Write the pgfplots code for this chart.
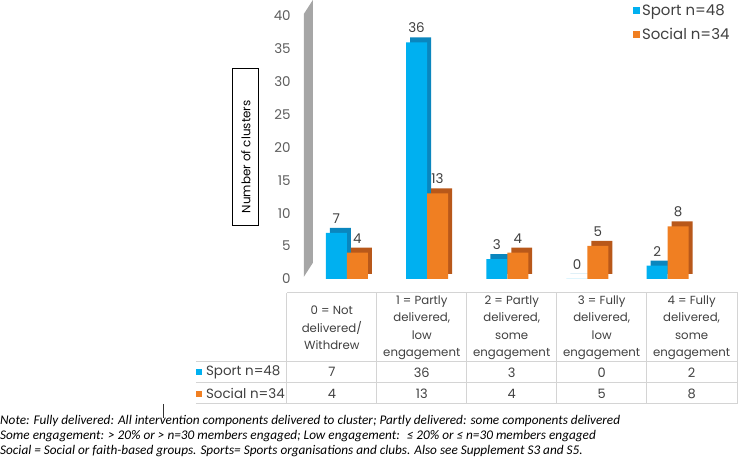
\documentclass[border=0pt]{standalone}
\usepackage{fontspec}
\setmainfont{Poppins}
\newfontfamily\notefont{Carlito}
\usepackage{pgfplots}
\pgfplotsset{compat=1.18}
\definecolor{sport}{HTML}{00B0F0}
\definecolor{sportdk}{HTML}{0A86BE}
\definecolor{social}{HTML}{F07F22}
\definecolor{socialdk}{HTML}{B8581A}
\definecolor{txt}{HTML}{404040}
\definecolor{grid}{HTML}{D4D4D4}
\begin{document}
\begin{tikzpicture}
\begin{scope}[x=1bp,y=-1bp]
\useasboundingbox (0,0) rectangle (738,457);
% wall
\fill[gray!70] (304,14) -- (313,0) -- (313,263) -- (304,277) -- cycle;
\end{scope}
\begin{axis}[
  at={(287bp,-279bp)}, anchor=south west,
  scale only axis, width=451bp, height=263bp,
  xmin=-0.748, xmax=4.872, ymin=0, ymax=40,
  axis line style={draw=none}, tick style={draw=none},
  xtick=\empty, ytick={0,5,...,40},
  /pgf/number format/assume math mode=true,
  yticklabel style={font=\fontsize{13.5}{16}\selectfont, text=txt!85, inner sep=0pt, xshift=4bp},
  clip=false,
  ybar, bar width=21bp,
  legend style={at={(0.76,1.06)}, anchor=north west, draw=none, fill=none,
    font=\fontsize{15}{17}\selectfont, text=txt, row sep=7bp,
    /tikz/every even column/.append style={column sep=3bp}},
  legend cell align=left,
]
% depth (3D) faces, drawn behind the front faces
\addplot[fill=sportdk, draw=none, bar shift=-10.5bp, xshift=4bp, yshift=5bp, forget plot]
  coordinates {(0,7) (1,36) (2,3) (3,0) (4,2)};
\addplot[fill=socialdk, draw=none, bar shift=10.5bp, xshift=4bp, yshift=5bp, forget plot]
  coordinates {(0,4) (1,13) (2,4) (3,5) (4,8)};
% front faces
\addplot[fill=sport, draw=none, bar shift=-10.5bp,
  legend image code/.code={\node[fill=sport, inner sep=0pt, minimum width=7.5bp, minimum height=7.5bp, anchor=west] at (0bp,0bp) {};},
  nodes near coords, every node near coord/.append style={font=\fontsize{13.5}{16}\selectfont, text=txt, yshift=6bp}]
  coordinates {(0,7) (1,36) (2,3) (3,0) (4,2)};
\addlegendentry{Sport n=48}
\addplot[fill=social, draw=none, bar shift=10.5bp,
  legend image code/.code={\node[fill=social, inner sep=0pt, minimum width=7.5bp, minimum height=7.5bp, anchor=west] at (0bp,0bp) {};},
  nodes near coords, every node near coord/.append style={font=\fontsize{13.5}{16}\selectfont, text=txt, yshift=6bp}]
  coordinates {(0,4) (1,13) (2,4) (3,5) (4,8)};
\addlegendentry{Social n=34}
\end{axis}
\begin{scope}[x=1bp,y=-1bp]
% y label
\draw[black, line width=0.8bp] (233,68) rectangle (259,226);
\node[rotate=90, font=\fontsize{12}{14}\selectfont, text=black, inner sep=0pt] at (246,157) {Number of clusters};
% table
\draw[grid, line width=0.8bp] (287,293) -- (738,293);
\foreach \y in {362,383,404} {\draw[grid, line width=0.8bp] (196,\y) -- (738,\y);}
\foreach \x in {287,377,467,557,647,737.5} {\draw[grid, line width=0.8bp] (\x,293) -- (\x,404);}
\foreach \x/\t in {332/{0 = Not\\delivered/\\Withdrew},
                   422/{1 = Partly\\delivered,\\low\\engagement},
                   512/{2 = Partly\\delivered,\\some\\engagement},
                   602/{3 = Fully\\delivered,\\low\\engagement},
                   692/{4 = Fully\\delivered,\\some\\engagement}}
  {\node[align=center, text=txt, font=\fontsize{11.8}{17.3}\selectfont, inner sep=0pt] at (\x,328) {\t};}
\foreach \x/\a/\b in {332/7/4, 422/36/13, 512/3/4, 602/0/5, 692/2/8}
  {\node[text=txt, font=\fontsize{13}{15}\selectfont, inner sep=0pt] at (\x,372.5) {\a};
   \node[text=txt, font=\fontsize{13}{15}\selectfont, inner sep=0pt] at (\x,394) {\b};}
\fill[sport] (196,369) rectangle (202,375);
\fill[social] (196,391) rectangle (202,397);
\node[anchor=west, text=txt, font=\fontsize{13.5}{15}\selectfont, inner sep=0pt] at (206,372.5) {Sport n=48};
\node[anchor=west, text=txt, font=\fontsize{13.5}{15}\selectfont, inner sep=0pt] at (206,394) {Social n=34};
% stray mark
\draw[black!80, line width=0.6bp] (163,404) -- (163,418);
% notes
\node[anchor=west, inner sep=0pt, font=\notefont\itshape\fontsize{13.3}{14}\selectfont, text=black] at (0,421)
  {Note: Fully delivered: All intervention components delivered to cluster; Partly delivered: some components delivered};
\node[anchor=west, inner sep=0pt, font=\notefont\itshape\fontsize{13.3}{14}\selectfont, text=black] at (0,436)
  {Some engagement: > 20\% or > n=30 members engaged; Low engagement: \ ≤ 20\% or ≤ n=30 members engaged};
\node[anchor=west, inner sep=0pt, font=\notefont\itshape\fontsize{13.3}{14}\selectfont, text=black] at (0,451)
  {Social = Social or faith-based groups. Sports= Sports organisations and clubs. Also see Supplement S3 and S5.};
\end{scope}
\end{tikzpicture}
\end{document}
